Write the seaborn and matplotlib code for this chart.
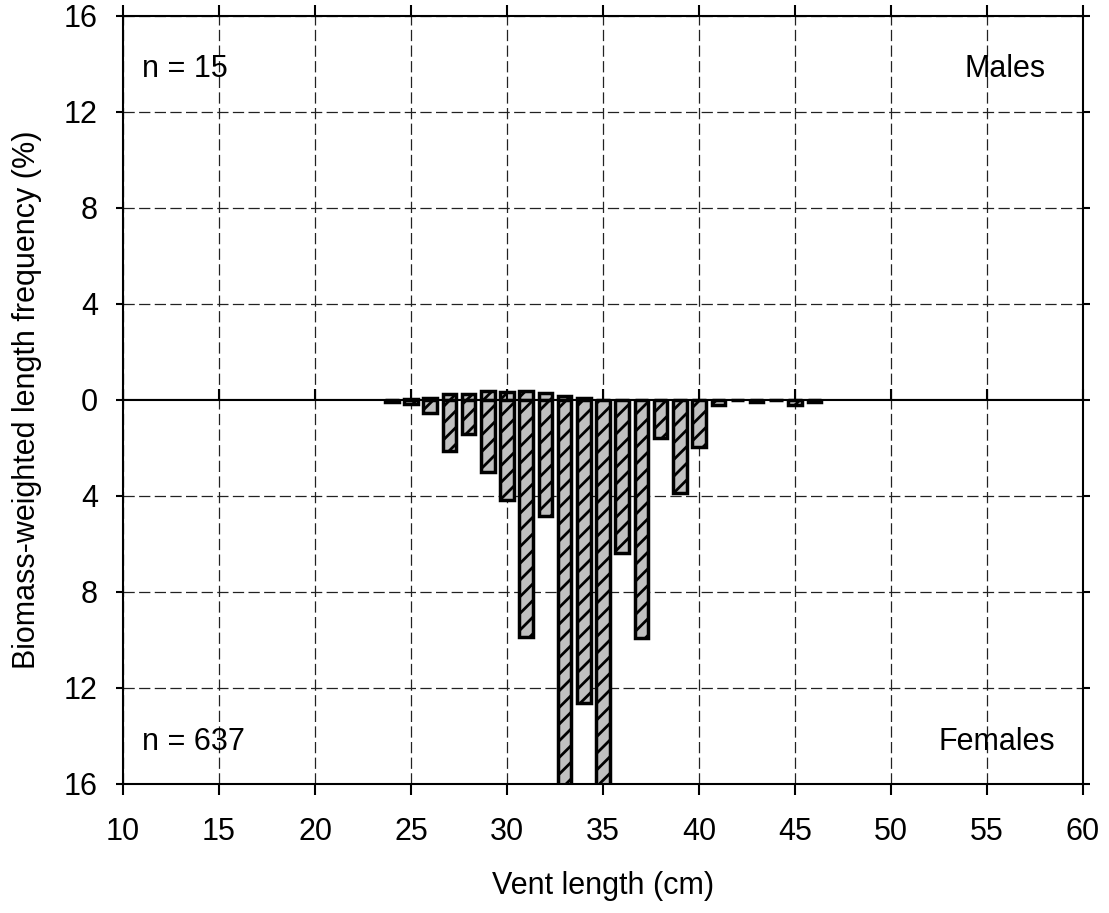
import numpy as np
import pandas as pd
import seaborn as sns
from matplotlib import pyplot as plt

# length classes (cm) and biomass-weighted frequencies (%)
lengths = list(range(24, 47))
males = [0.0, 0.03, 0.07, 0.25, 0.27, 0.38, 0.35, 0.36, 0.28, 0.18, 0.08, 0.0,
         0.0, 0.0, 0.0, 0.0, 0.0, 0.0, 0.0, 0.0, 0.0, 0.02, 0.0]
females = [0.08, 0.15, 0.55, 2.12, 1.40, 3.00, 4.15, 9.86, 4.85, 16.5, 12.63, 16.5,
           6.38, 9.93, 1.60, 3.87, 1.95, 0.22, 0.0, 0.10, 0.0, 0.20, 0.08]
x_ticks = [10, 15, 20, 25, 30, 35, 40, 45, 50, 55, 60]
y_ticks = [0, 4, 8, 12, 16]
n_males = 15
n_females = 637

df = pd.DataFrame({"length": lengths, "Males": males, "Females": females})

sns.set_style("ticks")
plt.rcParams['font.family'] = ['Liberation Sans', 'DejaVu Sans']
plt.rcParams['text.color'] = 'black'
plt.rcParams['hatch.linewidth'] = 2.0
plt.rcParams['hatch.color'] = 'black'

fig = plt.figure(figsize=(11.09, 9.13), dpi=100)
left, right = 0.1109, 0.9766
top, mid, bottom = 0.9825, 0.5619, 0.1413
ax_m = fig.add_axes([left, mid, right - left, top - mid])
ax_f = fig.add_axes([left, bottom, right - left, mid - bottom])

fs = 22

for ax, col in [(ax_m, "Males"), (ax_f, "Females")]:
    sns.barplot(data=df, x="length", y=col, native_scale=True, width=0.7,
                color="#c0c0c0", edgecolor="black", linewidth=2.5,
                saturation=1, ax=ax)
    for p in ax.patches:
        p.set_hatch("//")
    ax.set_xlim(10, 60)
    ax.set_ylim(0, 16)
    ax.set_xticks(x_ticks)
    ax.set_yticks(y_ticks)
    ax.grid(True, color="#222222", linestyle=(0, (9, 3.5)), linewidth=0.9)
    ax.set_axisbelow(True)
    for s in ax.spines.values():
        s.set_visible(True)
        s.set_linewidth(1.5)
        s.set_color("black")
    ax.set_xlabel("")
    ax.set_ylabel("")
    ax.tick_params(direction="out", width=1.5, labelsize=fs, colors="black")
    ax.tick_params(axis="x", length=8, pad=16)
    ax.tick_params(axis="y", length=5, pad=13, left=True, right=True)

# males panel: no bottom ticks, ticks on top
ax_m.tick_params(axis="x", top=True, bottom=False, labelbottom=False)
ax_m.text(0.0198, 0.841, "n = %d" % n_males, transform=ax_m.transAxes,
          fontsize=fs, va="baseline", ha="left")
ax_m.text(0.961, 0.841, "Males", transform=ax_m.transAxes,
          fontsize=fs, va="baseline", ha="right")

# females panel: inverted, ticks on top and bottom
ax_f.invert_yaxis()
ax_f.set_yticks(y_ticks[1:])
ax_f.tick_params(axis="x", top=True, bottom=True, labelbottom=True)
ax_f.text(0.0198, 0.0885, "n = %d" % n_females, transform=ax_f.transAxes,
          fontsize=fs, va="baseline", ha="left")
ax_f.text(0.971, 0.0885, "Females", transform=ax_f.transAxes,
          fontsize=fs, va="baseline", ha="right")
ax_f.set_xlabel("Vent length (cm)", fontsize=fs, labelpad=17, color="black")

fig.text(0.024, mid, "Biomass-weighted length frequency (%)", rotation=90,
         va="center", ha="center", fontsize=fs)

fig.savefig("out.png", dpi=100)
